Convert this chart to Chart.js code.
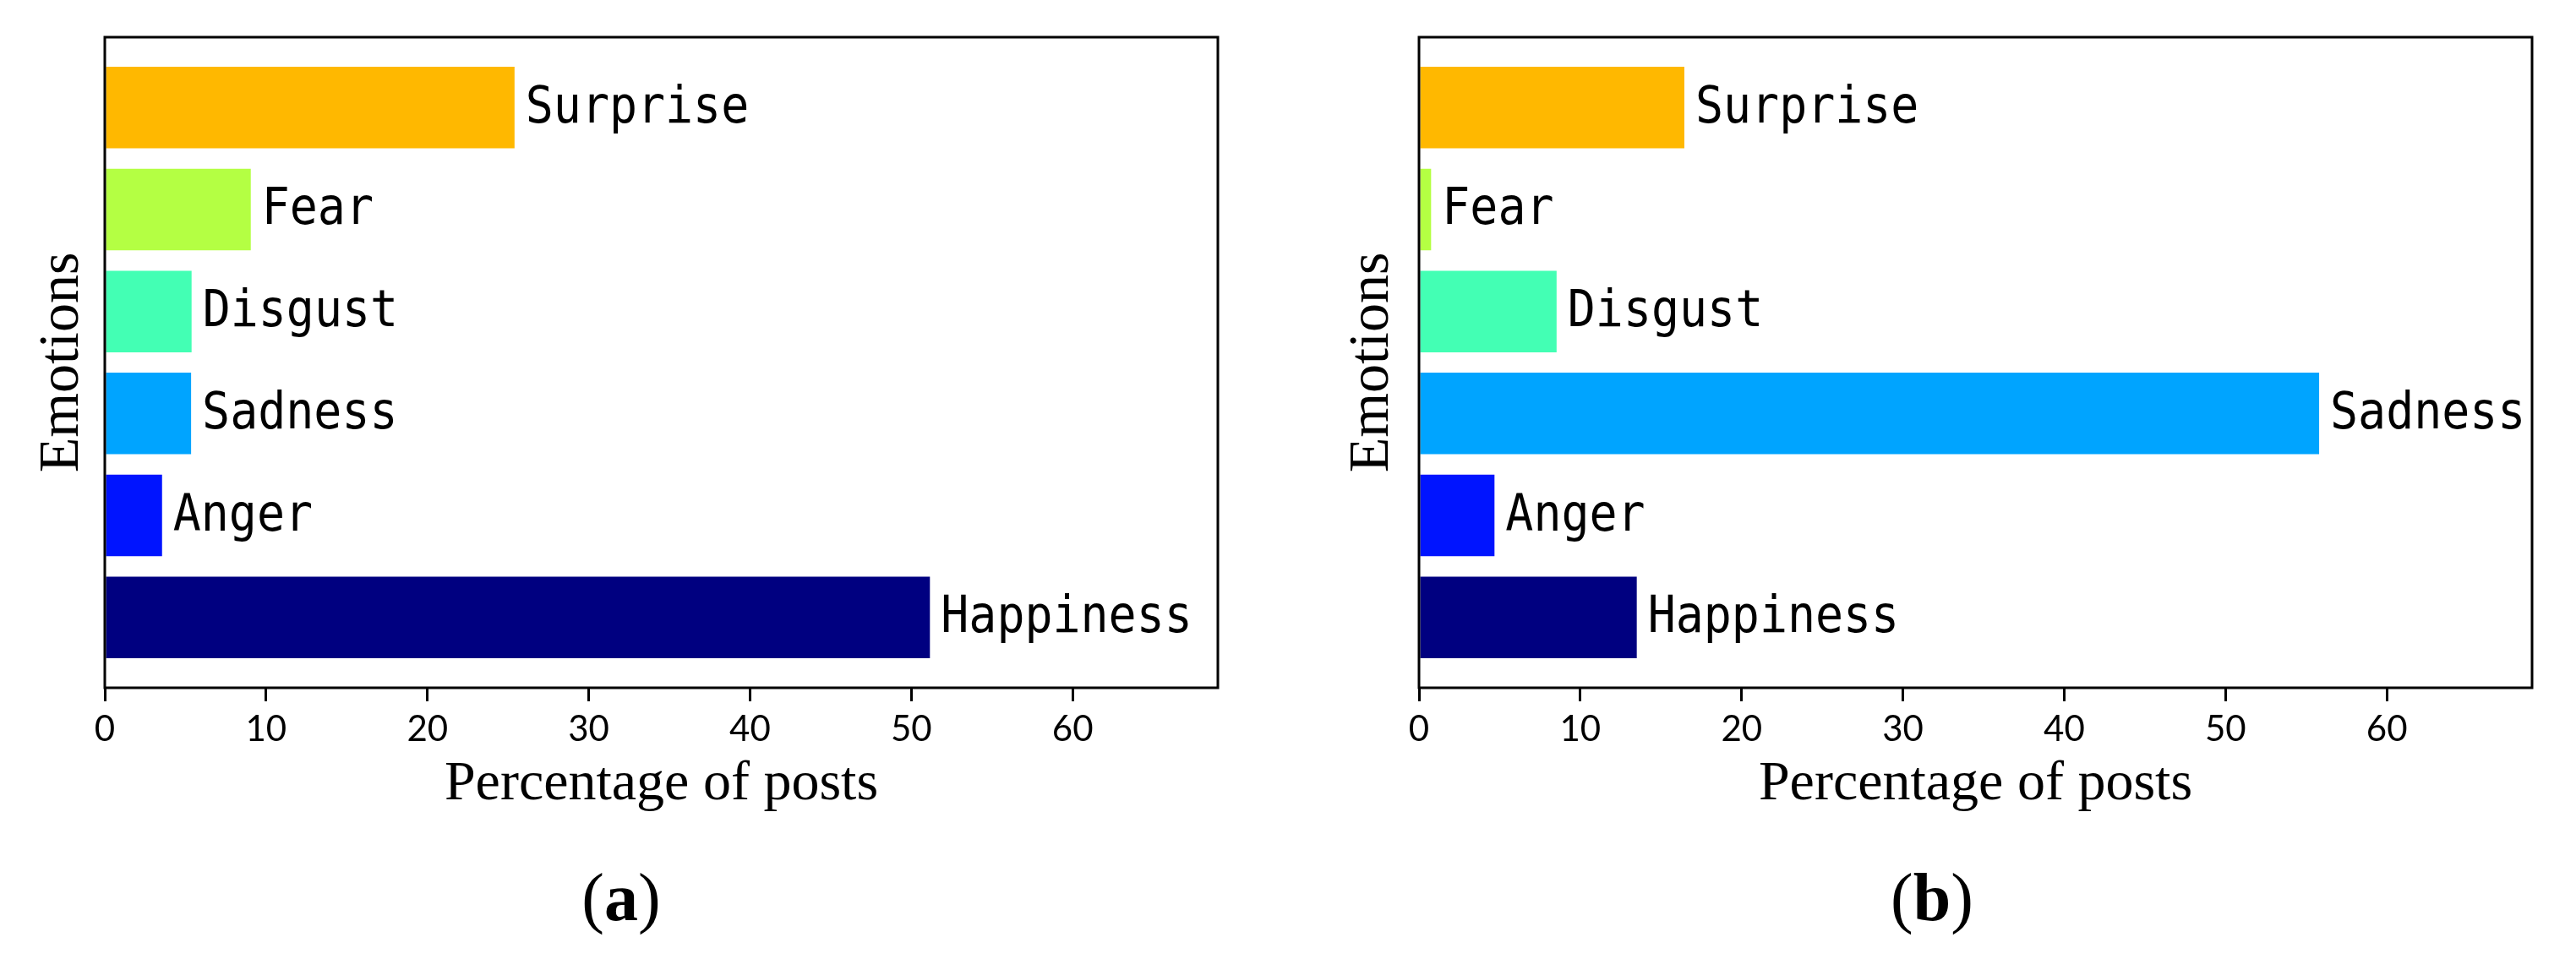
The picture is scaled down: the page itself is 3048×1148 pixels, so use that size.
<!DOCTYPE html>
<html>
<head>
<meta charset="utf-8">
<script src="https://cdn.jsdelivr.net/npm/chart.js@4.4.1/dist/chart.umd.min.js"></script>
<style>
  html, body { margin: 0; padding: 0; background: #fff; }
  #wrap { position: relative; width: 3048px; height: 1148px; overflow: hidden; }
  canvas { position: absolute; top: 0; }
  .sub { position: absolute; font-family: "Liberation Serif", serif; font-size: 80px; color: #000; line-height: 1; transform: translateX(-50%); white-space: nowrap; }
  .sub b { font-weight: bold; }
</style>
</head>
<body>
<div id="wrap">
  <canvas id="ca" width="1524" height="1148" style="left:0px"></canvas>
  <canvas id="cb" width="1524" height="1148" style="left:1524px"></canvas>
  <div class="sub" style="left:735px; top:1022px;">(<b>a</b>)</div>
  <div class="sub" style="left:2286px; top:1022px;">(<b>b</b>)</div>
</div>
<script>
// ---- data ----
const categories = ['Happiness', 'Anger', 'Sadness', 'Disgust', 'Fear', 'Surprise'];
const valuesA = [51.15, 3.55, 5.35, 5.38, 9.05, 25.4];
const valuesB = [13.5, 4.68, 55.8, 8.53, 0.75, 16.45];
const xTicks = [0, 10, 20, 30, 40, 50, 60];
const barColors = ['#000080', '#0014FF', '#00A4FF', '#43FFB4', '#B4FF43', '#FFB800'];
const xTitle = 'Percentage of posts';
const yTitle = 'Emotions';

const framePlugin = {
  id: 'frame',
  afterDatasetsDraw(chart) {
    const a = chart.chartArea, ctx = chart.ctx;
    ctx.save();
    ctx.strokeStyle = '#000';
    ctx.lineWidth = 3;
    ctx.strokeRect(a.left, a.top, a.right - a.left, a.bottom - a.top);
    ctx.restore();
  }
};

const barLabelPlugin = {
  id: 'barLabels',
  afterDatasetsDraw(chart) {
    const ctx = chart.ctx;
    const meta = chart.getDatasetMeta(0);
    ctx.save();
    ctx.fillStyle = '#000';
    ctx.font = '61px "DejaVu Sans Mono", monospace';
    ctx.textAlign = 'left';
    ctx.textBaseline = 'alphabetic';
    meta.data.forEach((el, i) => {
      ctx.save();
      ctx.translate(el.x + 13, el.y + 17.5);
      ctx.scale(0.9, 1);
      ctx.fillText(categories[i], 0, 0);
      ctx.restore();
    });
    ctx.restore();
  }
};

function makeChart(id, values, yAxisWidth, rightPad, yTitlePad) {
  const data = values.map((v, i) => ({ x: v, y: i }));
  return new Chart(document.getElementById(id), {
    type: 'bar',
    data: {
      datasets: [{
        data: data,
        backgroundColor: barColors,
        borderWidth: 0,
        barPercentage: 0.8,
        categoryPercentage: 1.0
      }]
    },
    options: {
      indexAxis: 'y',
      responsive: false,
      animation: false,
      devicePixelRatio: 1,
      layout: { padding: { left: 0, top: 44, right: rightPad, bottom: 0 } },
      plugins: { legend: { display: false }, tooltip: { enabled: false } },
      scales: {
        x: {
          type: 'linear',
          position: 'bottom',
          min: 0,
          max: 69,
          offset: false,
          afterBuildTicks(scale) { scale.ticks = xTicks.map(v => ({ value: v })); },
          afterFit(scale) { scale.height = 334; },
          grid: { display: true, offset: false, drawOnChartArea: false, drawTicks: true, tickLength: 16, tickWidth: 3, tickColor: '#000', color: '#000', lineWidth: 3 },
          border: { display: false },
          ticks: { color: '#000', font: { family: 'Lato', size: 42 }, padding: 8, maxRotation: 0, autoSkip: false },
          title: { display: true, text: xTitle, color: '#000', font: { family: 'Liberation Serif', size: 66 }, padding: { top: 0, bottom: 180 } }
        },
        y: {
          type: 'linear',
          position: 'left',
          min: -0.69,
          max: 5.69,
          offset: false,
          afterBuildTicks(scale) { scale.ticks = categories.map((c, i) => ({ value: i })); },
          afterFit(scale) { scale.width = yAxisWidth; },
          grid: { display: false, offset: false },
          border: { display: false },
          ticks: { display: false },
          title: { display: true, text: yTitle, color: '#000', font: { family: 'Liberation Serif', size: 68 }, padding: { top: yTitlePad, bottom: 0 } }
        }
      }
    },
    plugins: [framePlugin, barLabelPlugin]
  });
}

makeChart('ca', valuesA, 124, 83, 33);
makeChart('cb', valuesB, 155, 52, 59);
</script>
</body>
</html>
